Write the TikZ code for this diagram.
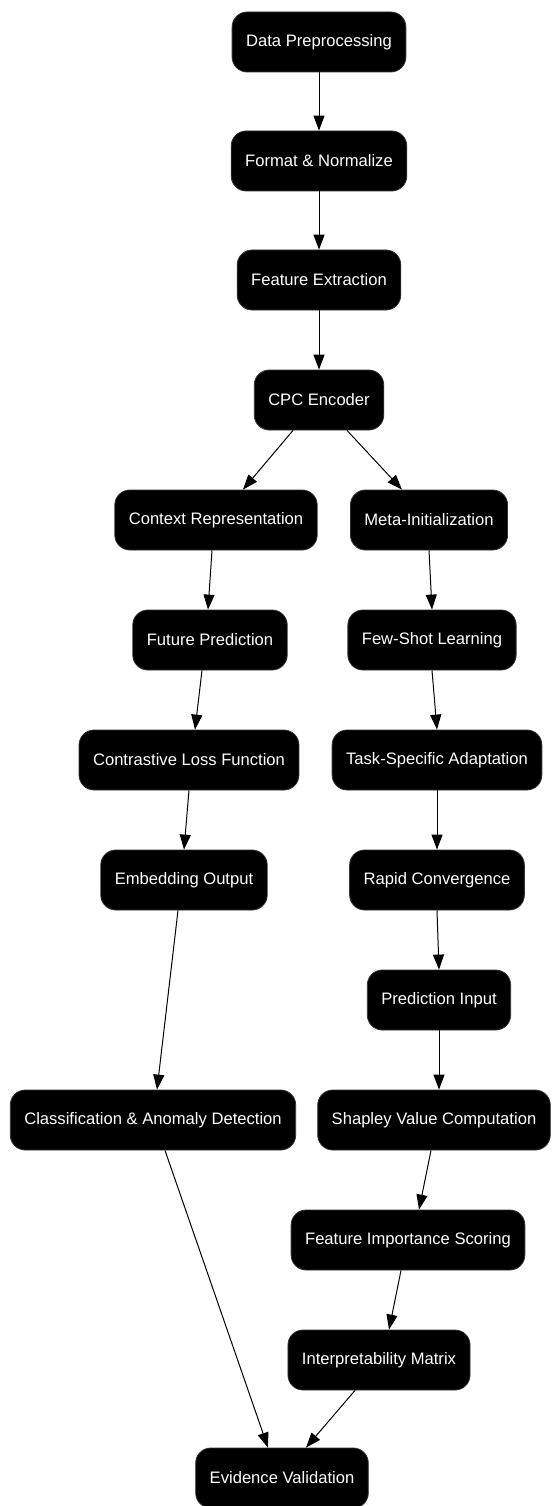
\documentclass[tikz,border=0pt]{standalone}
\usepackage{fontspec}
\setmainfont{Liberation Sans}
\usetikzlibrary{arrows.meta}
\begin{document}
\begin{tikzpicture}[x=1pt,y=-1pt,
  box/.style={draw=black!80,line width=0.8pt,fill=black,text=white,rounded corners=15pt,
    minimum height=60pt,inner xsep=14pt,font=\fontsize{16.6}{20}\selectfont},
  arr/.style={-{Triangle[length=15pt,width=11pt]},line width=1pt,black}]
\useasboundingbox (0,0) rectangle (554,1506);
\node[box] (dp) at (319,42) {Data Preprocessing};
\node[box] (fn) at (319,161) {Format \& Normalize};
\node[box] (fe) at (319,280) {Feature Extraction};
\node[box] (cpc) at (319,400) {CPC Encoder};
\node[box] (cr) at (216,520) {Context Representation};
\node[box] (mi) at (429,520) {Meta-Initialization};
\node[box] (fp) at (210,640) {Future Prediction};
\node[box] (fs) at (432,640) {Few-Shot Learning};
\node[box] (cl) at (189,760) {Contrastive Loss Function};
\node[box] (ta) at (437,760) {Task-Specific Adaptation};
\node[box] (eo) at (184,880) {Embedding Output};
\node[box] (rc) at (437,880) {Rapid Convergence};
\node[box] (pi) at (439,1000) {Prediction Input};
\node[box] (cad) at (153,1120) {Classification \& Anomaly Detection};
\node[box] (sv) at (434,1120) {Shapley Value Computation};
\node[box] (fis) at (408,1240) {Feature Importance Scoring};
\node[box] (im) at (379,1360) {Interpretability Matrix};
\node[box] (ev) at (282,1478) {Evidence Validation};
\draw[arr] (dp.south) -- (fn.north);
\draw[arr] (fn.south) -- (fe.north);
\draw[arr] (fe.south) -- (cpc.north);
\draw[arr] ([xshift=-26]cpc.south) -- ([xshift=27]cr.north);
\draw[arr] ([xshift=28]cpc.south) -- ([xshift=-27]mi.north);
\draw[arr] ([xshift=-4]cr.south) -- ([xshift=-2]fp.north);
\draw[arr] ([xshift=-8]fp.south) -- ([xshift=6]cl.north);
\draw[arr] (cl.south) -- (eo.north);
\draw[arr] ([xshift=-6]eo.south) -- ([xshift=4]cad.north);
\draw[arr] ([xshift=12]cad.south) -- ([xshift=-14]ev.north);
\draw[arr] (mi.south) -- (fs.north);
\draw[arr] (fs.south) -- (ta.north);
\draw[arr] (ta.south) -- (rc.north);
\draw[arr] (rc.south) -- (pi.north);
\draw[arr] (pi.south) -- ([xshift=5]sv.north);
\draw[arr] ([xshift=-3]sv.south) -- ([xshift=11]fis.north);
\draw[arr] ([xshift=-7]fis.south) -- ([xshift=10]im.north);
\draw[arr] ([xshift=-24]im.south) -- ([xshift=24]ev.north);
\end{tikzpicture}
\end{document}
